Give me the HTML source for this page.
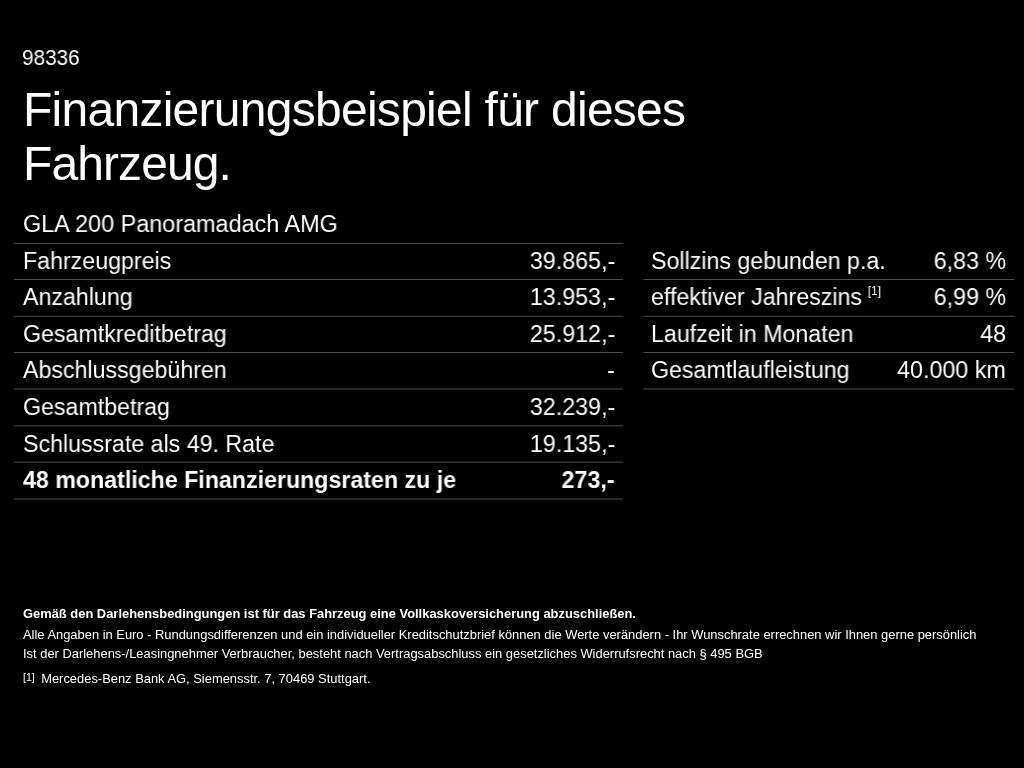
<!DOCTYPE html>
<html lang="de">
<head>
<meta charset="utf-8">
<title>Finanzierungsbeispiel</title>
<style>
html,body{margin:0;padding:0;background:#000;}
body{width:1024px;height:768px;overflow:hidden;position:relative;color:#fff;font-family:"Liberation Sans",sans-serif;}
.a{position:absolute;white-space:nowrap;line-height:1;transform-origin:0 0;}
#id{left:22.3px;top:48px;font-size:21.5px;transform:scaleX(0.965);}
#t1{left:22.9px;top:86px;font-size:48px;letter-spacing:-0.73px;}
#t2{left:22.9px;top:140px;font-size:48px;letter-spacing:-0.9px;}
#model{left:22.8px;top:213px;font-size:23.5px;transform:scaleX(0.996);}
.k,.v{position:absolute;white-space:nowrap;line-height:1;font-size:23.5px;}
.k{left:22.9px;transform:scaleX(0.987);transform-origin:0 0;}
.v{right:17.8px;transform:scaleX(0.99);transform-origin:100% 0;}
.lv{right:409px;}
.rk{left:651px;}
.b{font-weight:bold;}
sup{font-size:12px;vertical-align:0;position:relative;top:-10px;margin-left:6px;}
.f{position:absolute;left:22.8px;font-size:12.92px;line-height:1;white-space:nowrap;}
.fn{font-size:10.5px;position:relative;top:-2px;margin-right:6.5px;}
svg{position:absolute;left:0;top:0;}
body>div{will-change:transform;}
</style>
</head>
<body>
<svg width="1024" height="768" viewBox="0 0 1024 768">
<g stroke="#4e4e4e" stroke-width="1" shape-rendering="geometricPrecision">
<line x1="14" x2="623" y1="243.4" y2="243.4"/>
<line x1="14" x2="623" y1="279.5" y2="279.5"/>
<line x1="14" x2="623" y1="316.3" y2="316.3"/>
<line x1="14" x2="623" y1="352.5" y2="352.5"/>
<line x1="14" x2="623" y1="389.0" y2="389.0"/>
<line x1="14" x2="623" y1="425.8" y2="425.8"/>
<line x1="14" x2="623" y1="462.1" y2="462.1"/>
<line x1="14" x2="623" y1="499.0" y2="499.0"/>
<line x1="643.5" x2="1014.5" y1="279.5" y2="279.5"/>
<line x1="643.5" x2="1014.5" y1="316.3" y2="316.3"/>
<line x1="643.5" x2="1014.5" y1="352.5" y2="352.5"/>
<line x1="643.5" x2="1014.5" y1="389.0" y2="389.0"/>
</g>
</svg>
<div class="a" id="id">98336</div>
<div class="a" id="t1">Finanzierungsbeispiel für dieses</div>
<div class="a" id="t2">Fahrzeug.</div>
<div class="a" id="model">GLA 200 Panoramadach AMG</div>

<div class="k" style="top:249.8px">Fahrzeugpreis</div><div class="v lv" style="top:249.8px">39.865,-</div>
<div class="k" style="top:286.3px">Anzahlung</div><div class="v lv" style="top:286.3px">13.953,-</div>
<div class="k" style="top:322.8px">Gesamtkreditbetrag</div><div class="v lv" style="top:322.8px">25.912,-</div>
<div class="k" style="top:359.4px">Abschlussgebühren</div><div class="v lv" style="top:359.4px">-</div>
<div class="k" style="top:395.9px">Gesamtbetrag</div><div class="v lv" style="top:395.9px">32.239,-</div>
<div class="k" style="top:432.5px">Schlussrate als 49. Rate</div><div class="v lv" style="top:432.5px">19.135,-</div>
<div class="k b" style="top:469px">48 monatliche Finanzierungsraten zu je</div><div class="v lv b" style="top:469px">273,-</div>

<div class="k rk" style="top:249.8px">Sollzins gebunden p.a.</div><div class="v" style="top:249.8px">6,83 %</div>
<div class="k rk" style="top:286.3px">effektiver Jahreszins<sup>[1]</sup></div><div class="v" style="top:286.3px">6,99 %</div>
<div class="k rk" style="top:322.8px">Laufzeit in Monaten</div><div class="v" style="top:322.8px">48</div>
<div class="k rk" style="top:359.4px">Gesamtlaufleistung</div><div class="v" style="top:359.4px">40.000 km</div>

<div class="f b" style="top:608.4px">Gemäß den Darlehensbedingungen ist für das Fahrzeug eine Vollkaskoversicherung abzuschließen.</div>
<div class="f" style="top:629.4px">Alle Angaben in Euro - Rundungsdifferenzen und ein individueller Kreditschutzbrief können die Werte verändern - Ihr Wunschrate errechnen wir Ihnen gerne persönlich</div>
<div class="f" style="top:647.5px">Ist der Darlehens-/Leasingnehmer Verbraucher, besteht nach Vertragsabschluss ein gesetzliches Widerrufsrecht nach § 495 BGB</div>
<div class="f" style="top:673px"><span class="fn">[1]</span>Mercedes-Benz Bank AG, Siemensstr. 7, 70469 Stuttgart.</div>
</body>
</html>
